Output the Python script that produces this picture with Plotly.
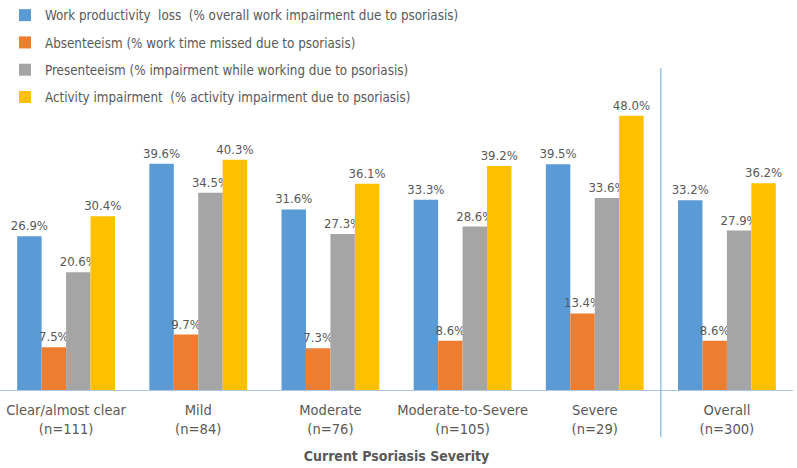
import plotly.graph_objects as go

categories = ["Clear/almost clear<br>(n=111)", "Mild<br>(n=84)", "Moderate<br>(n=76)",
              "Moderate-to-Severe<br>(n=105)", "Severe<br>(n=29)", "Overall<br>(n=300)"]
series_names = [
    "Work productivity  loss  (% overall work impairment due to psoriasis)",
    "Absenteeism (% work time missed due to psoriasis)",
    "Presenteeism (% impairment while working due to psoriasis)",
    "Activity impairment  (% activity impairment due to psoriasis)",
]
work_productivity_loss = [26.9, 39.6, 31.6, 33.3, 39.5, 33.2]
absenteeism = [7.5, 9.7, 7.3, 8.6, 13.4, 8.6]
presenteeism = [20.6, 34.5, 27.3, 28.6, 33.6, 27.9]
activity_impairment = [30.4, 40.3, 36.1, 39.2, 48.0, 36.2]
colors = ["#5B9BD5", "#ED7D31", "#A5A5A5", "#FFC000"]

FONT = "Liberation Sans Narrow, DejaVu Sans Condensed, Liberation Sans, Arial, sans-serif"
TXT = "#595959"

fig = go.Figure()
for i, (name, vals) in enumerate(zip(series_names,
                                     [work_productivity_loss, absenteeism, presenteeism, activity_impairment])):
    fig.add_trace(go.Bar(
        x=categories, y=vals, name=name, marker_color=colors[i],
        marker_line_width=0,
        texttemplate="%{y:.1f}%", textposition="outside", constraintext="none",
        textfont=dict(family=FONT, size=13, color=TXT),
        cliponaxis=False, legendgroup=str(i),
    ))

W, H = 797, 468
ml, mr, mt, mb = 0, 4, 70, 78
plot_h = H - mt - mb

fig.update_layout(
    width=W, height=H,
    margin=dict(l=ml, r=mr, t=mt, b=mb, autoexpand=False),
    paper_bgcolor="white", plot_bgcolor="white",
    barmode="group", bargap=0.26, bargroupgap=0,
    font=dict(family=FONT, size=13, color=TXT),
    showlegend=True,
    legend=dict(xref="container", yref="container", x=5 / W, y=1.032,
                xanchor="left", yanchor="top", orientation="v",
                font=dict(family=FONT, size=13.3, color=TXT),
                tracegroupgap=7, bgcolor="rgba(0,0,0,0)", traceorder="grouped"),
    xaxis=dict(type="category", range=[-0.5, 5.5], showgrid=False,
               showline=True, linecolor="#A9C6E8", linewidth=1,
               ticks="", tickangle=0, automargin=False, ticklabelstandoff=6,
               tickfont=dict(family=FONT, size=14.6, color=TXT),
               title=dict(text="<b>Current Psoriasis Severity</b>",
                          font=dict(family=FONT, size=14, color=TXT), standoff=15)),
    yaxis=dict(range=[0, 56], showgrid=False, zeroline=False, automargin=False,
               showticklabels=False, showline=False, fixedrange=True),
)

# separator between Severe and Overall
fig.add_shape(type="line", xref="x", yref="paper", x0=4.5, x1=4.5,
              y0=(390 - 437) / plot_h, y1=(390 - 68) / plot_h,
              line=dict(color="#9DC3E6", width=1.5))

fig.write_html("out.html", config={"displayModeBar": False},
               post_script="document.body.style.margin='0';")
